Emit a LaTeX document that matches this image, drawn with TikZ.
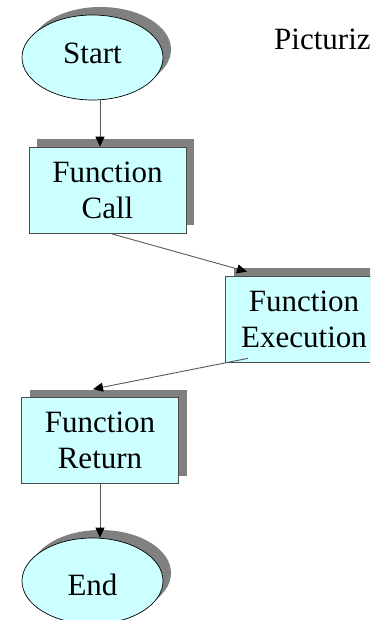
\documentclass[tikz,border=0pt]{standalone}
\usepackage{fontspec}
\setmainfont{Liberation Serif}
\usetikzlibrary{shapes.geometric,shadows,arrows.meta}
\definecolor{boxfill}{HTML}{CCFFFF}
\definecolor{shadowgray}{HTML}{808080}
\begin{document}
\begin{tikzpicture}[x=1pt,y=-1pt,
  every node/.style={font=\fontsize{31}{36}\selectfont},
  shad/.style={general shadow={fill=shadowgray, shadow xshift=8pt, shadow yshift=8pt}},
  term/.style={ellipse, draw=black, line width=0.7pt, fill=boxfill, shad,
               minimum width=141pt, minimum height=85pt, inner sep=0pt},
  proc/.style={rectangle, draw=black!70, line width=0.7pt, fill=boxfill, shad,
               minimum width=157pt, minimum height=86pt, inner sep=0pt, align=center},
  arr/.style={draw=black!65, line width=0.9pt, -{Triangle[length=10pt,width=9pt,color=black]}}]
\useasboundingbox (0,0) rectangle (370,620);
\clip (0,0) rectangle (370,620);
\fill[white] (0,0) rectangle (370,620);
\node[term, text height=21pt, text depth=8pt] (start) at (92.5,57.5) {Start};
\node[proc] (call) at (107.5,190) {Function\\Call};
\node[proc] (exec) at (304,319) {Function\\Execution};
\node[proc] (ret) at (100,440.5) {Function\\Return};
\node[term, minimum height=86pt, text height=36pt, text depth=8pt] (end) at (92.5,581) {End};
\node[anchor=base west, inner sep=0pt] (title) at (274,50) {Picturiz};
\draw[arr] ([xshift=7.5pt]start.south) -- ([xshift=-7.5pt]call.north);
\draw[arr] ([xshift=2.5pt]call.south) -- ([xshift=-57pt,yshift=4pt]exec.north);
\draw[arr] ([xshift=-56pt,yshift=4pt]exec.south) -- ([xshift=-7pt,yshift=8pt]ret.north);
\draw[arr] (ret.south) -- ([xshift=7.5pt]end.north);
\end{tikzpicture}
\end{document}
